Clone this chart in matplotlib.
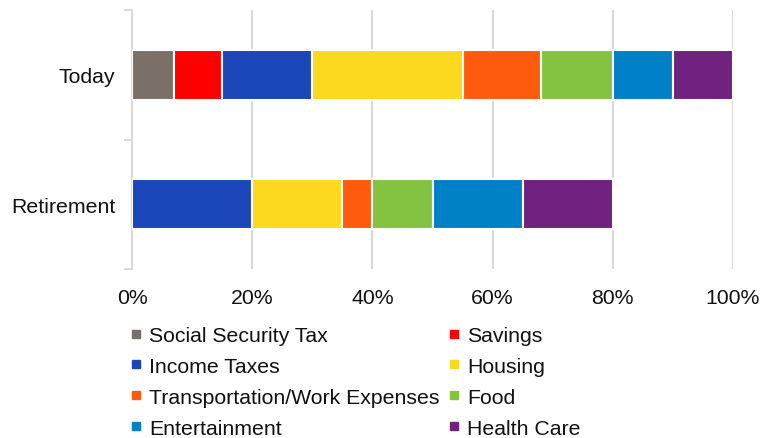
import numpy as np
import matplotlib.pyplot as plt
from matplotlib.lines import Line2D

plt.rcParams['font.family'] = ['Liberation Sans', 'DejaVu Sans']

# categories (bottom to top)
categories = ["Retirement", "Today"]

# series values in percent: [Retirement, Today]
series_names = ["Social Security Tax", "Savings", "Income Taxes", "Housing",
                "Transportation/Work Expenses", "Food", "Entertainment", "Health Care"]
social_security = [0, 7]
savings = [0, 8]
income_taxes = [20, 15]
housing = [15, 25]
transportation = [5, 13]
food = [10, 12]
entertainment = [15, 10]
health_care = [15, 10]

x_ticks = [0, 20, 40, 60, 80, 100]
x_tick_labels = ["0%", "20%", "40%", "60%", "80%", "100%"]

colors = ["#7A7068", "#FF0000", "#1B46B9", "#FCD91E",
          "#FF5B0F", "#83C341", "#0080C6", "#71217F"]

values = [social_security, savings, income_taxes, housing,
          transportation, food, entertainment, health_care]

fs = 15.3

fig = plt.figure(figsize=(7.64, 4.39), dpi=100)
ax = fig.add_axes([132 / 764, 1 - 270 / 439, (733 - 132) / 764, (270 - 11) / 439])

y = np.arange(len(categories))
left = np.zeros(len(categories))
handles = []
for name, vals, c in zip(series_names, values, colors):
    vals = np.array(vals, dtype=float)
    ax.barh(y, vals, left=left, height=0.385, color=c, edgecolor="white", linewidth=1.5, zorder=3)
    left += vals
    handles.append(Line2D([], [], marker="s", linestyle="none", markersize=6,
                          markerfacecolor=c, markeredgecolor=c, label=name))

ax.set_xlim(0, 100)
ax.set_ylim(-0.5, 1.5)
ax.set_xticks(x_ticks)
ax.set_xticklabels(x_tick_labels, fontsize=fs, color="#111111")
ax.set_yticks(y)
ax.set_yticklabels(categories, fontsize=fs, color="#111111")
ax.set_yticks([-0.5, 0.5, 1.5], minor=True)
ax.tick_params(axis="x", length=0, pad=14)
ax.tick_params(axis="y", which="major", length=0, pad=12)
ax.tick_params(axis="y", which="minor", length=6, width=1.5, color="#D9D9D9")

ax.grid(axis="x", color="#D9D9D9", linewidth=1.5, zorder=0)
for s in ["top", "right", "bottom"]:
    ax.spines[s].set_visible(False)
ax.spines["left"].set_color("#D9D9D9")
ax.spines["left"].set_linewidth(1.5)

# legend in row-major order like the original
order = [0, 2, 4, 6, 1, 3, 5, 7]
fig.legend([handles[i] for i in order], [series_names[i] for i in order],
           ncol=2, loc="upper left", bbox_to_anchor=(131 / 764, 1 - 327 / 439),
           frameon=False, fontsize=fs, handlelength=0.5, handletextpad=0.35,
           columnspacing=0.45, labelspacing=0.56, borderaxespad=0, borderpad=0,
           labelcolor="#111111")

fig.savefig("out.png", dpi=100)
